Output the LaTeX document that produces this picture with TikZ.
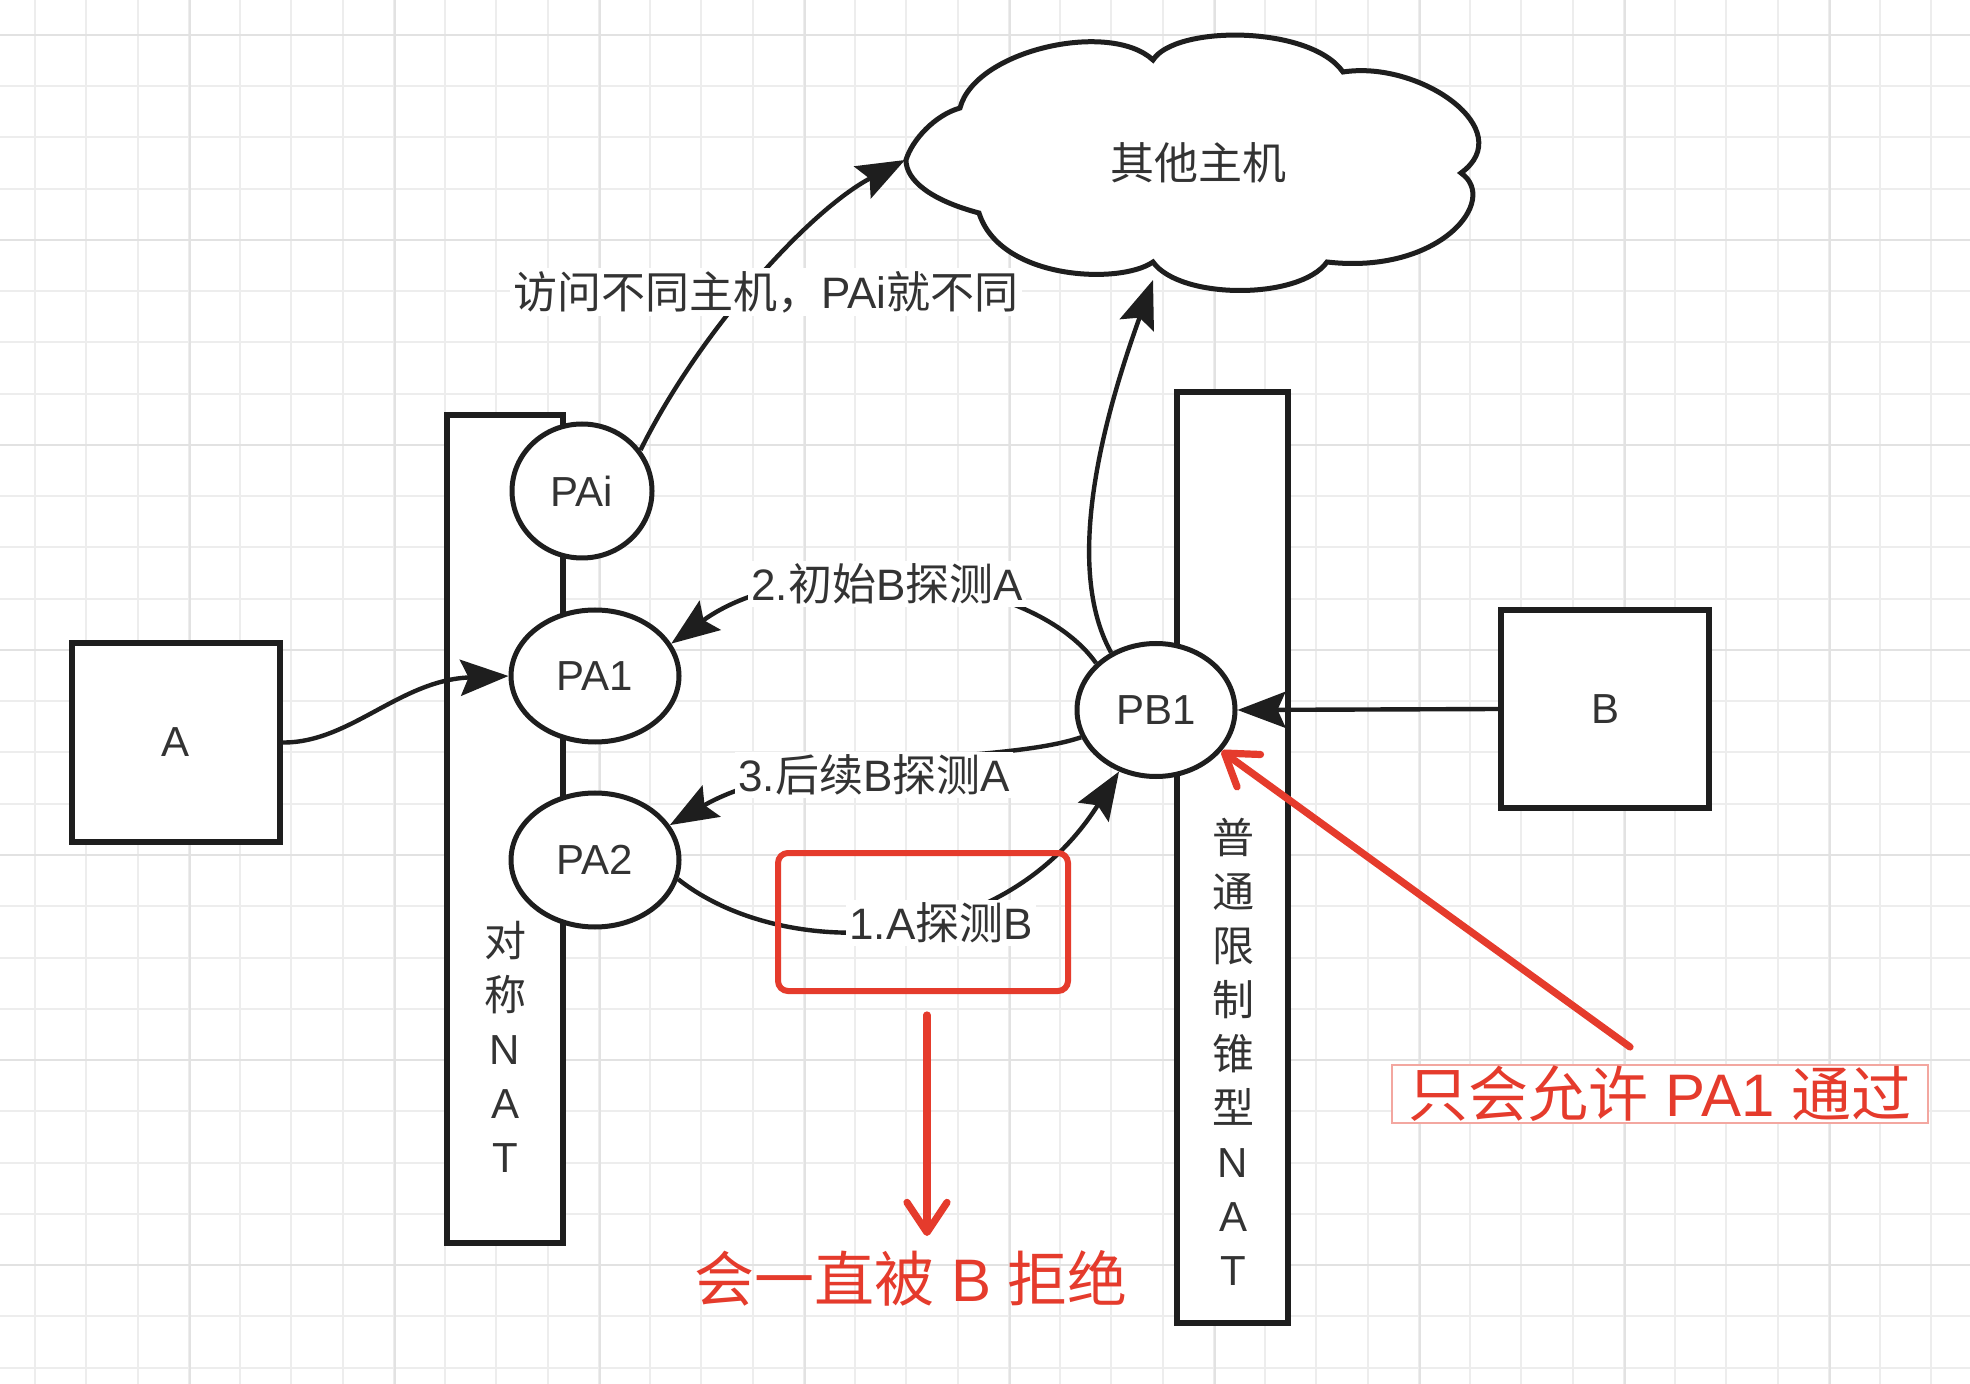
\documentclass[tikz,border=0pt]{standalone}
\usepackage{fontspec}
\setmainfont{Liberation Sans}
\newfontfamily\cjkfont{Noto Sans CJK SC}
\newcommand\zh[1]{{\cjkfont #1}}
\usetikzlibrary{arrows.meta,shapes.geometric}
\definecolor{txt}{HTML}{333333}
\definecolor{linec}{HTML}{1E1E1E}
\definecolor{redc}{HTML}{E53B2C}
\definecolor{gridminor}{HTML}{EDEDED}
\definecolor{gridmajor}{HTML}{E2E2E2}
\begin{document}
\begin{tikzpicture}[x=0.5pt,y=-0.5pt,
  font=\fontsize{21}{25}\selectfont,
  every node/.style={text=txt},
  box/.style={draw=linec, line width=2.8pt, fill=white, inner sep=0pt},
  port/.style={ellipse, draw=linec, line width=2.5pt, fill=white, inner sep=0pt},
  conn/.style={draw=linec, line width=2.2pt, -{Stealth[length=24pt,width=18pt,inset=4pt]}},
  lbl/.style={fill=white, inner sep=1.5pt, font=\fontsize{22}{26}\selectfont},
  redarrow/.style={draw=redc, line width=3.6pt, line cap=round, -{Straight Barb[length=15pt,width=20pt,line cap=round,line join=round]}},
  redtext/.style={text=redc, font=\fontsize{30}{34}\selectfont},
  vtext/.style={align=center, font=\fontsize{21}{27}\selectfont, text=txt, inner sep=0pt}
]
\useasboundingbox (0,0) rectangle (1970,1384);
\fill[white] (0,0) rectangle (1970,1384);
% background grid
\foreach \k in {0,...,37} \draw[gridminor, line width=1pt] ({35+51.25*\k},0) -- ({35+51.25*\k},1384);
\foreach \k in {0,...,26} \draw[gridminor, line width=1pt] (0,{35+51.25*\k}) -- (1970,{35+51.25*\k});
\foreach \k in {0,...,8} \draw[gridmajor, line width=1pt] ({189.75+205*\k},0) -- ({189.75+205*\k},1384);
\foreach \k in {0,...,6} \draw[gridmajor, line width=1pt] (0,{35+205*\k}) -- (1970,{35+205*\k});

% NAT bars and hosts
\node[box, minimum width=58pt, minimum height=414pt] (symnat) at (505,829) {};
\node[box, minimum width=55.5pt, minimum height=465.5pt] (ordnat) at (1232.5,857.5) {};
\node[box, minimum width=104pt, minimum height=99.5pt] (A) at (176,742.5) {A};
\node[box, minimum width=104pt, minimum height=99pt] (B) at (1605,709) {B};

\node[vtext] (symlbl) at (505,1047) {\zh{对}\\\zh{称}\\N\\A\\T};
\node[vtext] (ordlbl) at (1233,1052) {\zh{普}\\\zh{通}\\\zh{限}\\\zh{制}\\\zh{锥}\\\zh{型}\\N\\A\\T};

% ports
\node[port, minimum width=70pt, minimum height=67pt] (PAi) at (582,491) {PAi};
\node[port, minimum width=84pt, minimum height=66pt] (PA1) at (595,676) {PA1};
\node[port, minimum width=84pt, minimum height=67pt] (PA2) at (595,860) {PA2};
\node[port, minimum width=79pt, minimum height=66.5pt] (PB1) at (1156,710) {PB1};

% cloud
\draw[draw=linec, line width=2.5pt, fill=white, line join=miter]
 (906,160) .. controls (912,140) and (935,115) .. (960,108)
 .. controls (975,50) and (1110,20) .. (1153,60)
 .. controls (1175,25) and (1310,25) .. (1343,72)
 .. controls (1420,60) and (1520,130) .. (1461,173)
 .. controls (1500,200) and (1440,275) .. (1327,262)
 .. controls (1300,300) and (1180,300) .. (1153,262)
 .. controls (1120,285) and (1000,280) .. (979,213)
 .. controls (930,200) and (906,180) .. (906,160) -- cycle;
\node[font=\fontsize{22}{26}\selectfont] (cloud) at (1198,163) {\zh{其他主机}};
\coordinate (cloudL) at (905,160);
\coordinate (cloudB) at (1153,280);

% connectors
\draw[conn] (A.east) .. controls (350,743) and (400,680) .. (PA1.west);
\draw[conn] (PAi.35) .. controls (700,330) and (810,210) .. (cloudL);
\draw[conn] (PB1.128) .. controls (1060,560) and (1110,400) .. (cloudB);
\draw[conn] (B.west) -- (PB1.east);
\draw[conn] (PB1.142) .. controls (1030,570) and (800,550) .. (PA1.23);
\draw[conn] (PB1.200) .. controls (1000,765) and (800,750) .. (PA2.25);
\draw[conn] (PA2.347) .. controls (780,960) and (1000,960) .. (PB1.239);

% connector labels
\node[lbl] (lblPAi) at (766,292) {\zh{访问不同主机，}PAi\zh{就不同}};
\node[lbl] (lbl2) at (887,584) {2.\zh{初始}B\zh{探测}A};
\node[lbl] (lbl3) at (874,775) {3.\zh{后续}B\zh{探测}A};
\node[lbl] (lbl1) at (941,923) {1.A\zh{探测}B};

% red annotations
\node[draw=redc, line width=3pt, rounded corners=5pt, minimum width=145pt, minimum height=69pt, inner sep=0pt] (redbox) at (923,922) {};
\coordinate (r1s) at (927,1015);
\node[redtext] (reject) at (911,1278) {\zh{会一直被} B \zh{拒绝}};
\coordinate (r1e) at (927,1236);
\draw[redarrow] (r1s) -- (r1e);

\node[redtext, draw=redc!45, line width=0.6pt, fill=white, minimum width=268pt, minimum height=29pt, inner sep=0pt] (allow) at (1660,1094) {\zh{只会允许} PA1 \zh{通过}};
\coordinate (r2s) at (1630,1047);
\draw[redarrow] (r2s) -- (PB1.-32);
\end{tikzpicture}
\end{document}
